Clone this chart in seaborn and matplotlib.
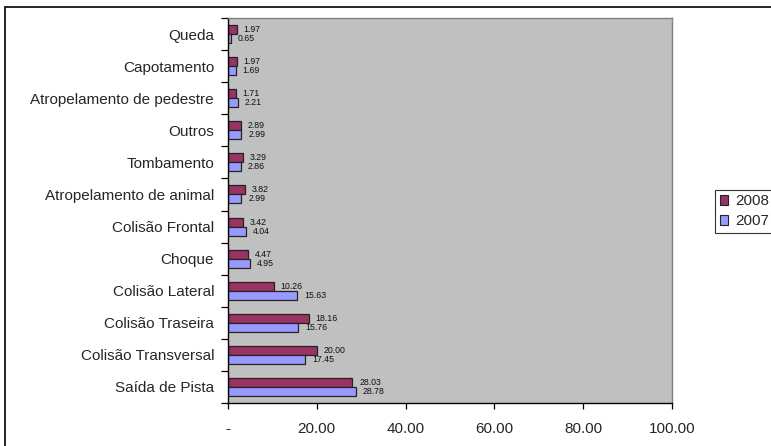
import matplotlib
matplotlib.use("Agg")
import matplotlib.pyplot as plt
import matplotlib.patches as mpatches
import seaborn as sns
import pandas as pd

categories = ["Queda", "Capotamento", "Atropelamento de pedestre", "Outros",
              "Tombamento", "Atropelamento de animal", "Colisão Frontal",
              "Choque", "Colisão Lateral", "Colisão Traseira",
              "Colisão Transversal", "Saída de Pista"]
values_2008 = [1.97, 1.97, 1.71, 2.89, 3.29, 3.82, 3.42, 4.47, 10.26, 18.16, 20.00, 28.03]
values_2007 = [0.65, 1.69, 2.21, 2.99, 2.86, 2.99, 4.04, 4.95, 15.63, 15.76, 17.45, 28.78]
series = ["2008", "2007"]
xticks = [0, 20, 40, 60, 80, 100]
xtick_labels = ["-", "20.00", "40.00", "60.00", "80.00", "100.00"]

colors = {"2008": "#993366", "2007": "#9999FF"}

df = pd.DataFrame({
    "categoria": categories * 2,
    "valor": values_2008 + values_2007,
    "ano": ["2008"] * len(categories) + ["2007"] * len(categories),
})

sns.set_style("white")
plt.rcParams["font.family"] = ["Liberation Sans", "DejaVu Sans"]

W, H = 771, 446
fig = plt.figure(figsize=(W / 100, H / 100), dpi=100)
ax = fig.add_axes([228 / W, 1 - 403 / H, (672 - 228) / W, (403 - 18) / H])

sns.barplot(data=df, y="categoria", x="valor", hue="ano", hue_order=series,
            order=categories, palette=colors, saturation=1, orient="h", width=0.56,
            edgecolor="#222222", linewidth=0.9, legend=False, ax=ax)

ax.set_facecolor("#C0C0C0")
ax.set_xlim(0, 100)
ax.set_ylim(len(categories) - 0.5, -0.5)
ax.set_xlabel("")
ax.set_ylabel("")

# value labels at the end of each bar
for container, s in zip(ax.containers, series):
    vals = values_2008 if s == "2008" else values_2007
    for bar, v in zip(container, vals):
        y = bar.get_y() + bar.get_height() / 2
        ax.annotate(f"{v:.2f}", xy=(bar.get_width(), y), xytext=(5, 0),
                    textcoords="offset points", ha="left", va="center",
                    fontsize=6.3, color="#111111")

# axes and ticks
ax.set_xticks(xticks)
ax.set_xticklabels(xtick_labels, fontsize=11)
ax.set_yticks(range(len(categories)))
ax.set_yticklabels(categories, fontsize=11)
ax.set_yticks([i + 0.5 for i in range(-1, len(categories))], minor=True)
ax.tick_params(axis="y", which="major", left=True, length=0, pad=10)
ax.tick_params(axis="y", which="minor", left=True, length=5, width=0.9,
               color="black", direction="out")
ax.tick_params(axis="x", which="major", bottom=True, length=4, width=0.9,
               color="black", direction="out", pad=10)

for side in ["left", "bottom"]:
    ax.spines[side].set_color("black")
    ax.spines[side].set_linewidth(1.0)
for side in ["top", "right"]:
    ax.spines[side].set_color("#808080")
    ax.spines[side].set_linewidth(1.0)
    ax.spines[side].set_visible(True)

# legend
handles = [mpatches.Patch(facecolor=colors[s], edgecolor="#222222", linewidth=0.8, label=s)
           for s in series]
leg = fig.legend(handles=handles, loc="lower left",
                 bbox_to_anchor=(715 / W, 1 - 233 / H), fontsize=11,
                 frameon=True, fancybox=False, handlelength=0.55, handleheight=0.55,
                 handletextpad=0.5, borderpad=0.3, labelspacing=0.4,
                 borderaxespad=0)
leg.get_frame().set_edgecolor("black")
leg.get_frame().set_linewidth(0.8)

# outer chart border
fig.patches.append(mpatches.Rectangle((5 / W, -0.05), 1.0, 1 - 7 / H + 0.05,
                                      transform=fig.transFigure, fill=False,
                                      edgecolor="black", linewidth=1.2))

fig.savefig("out.png", dpi=100)
